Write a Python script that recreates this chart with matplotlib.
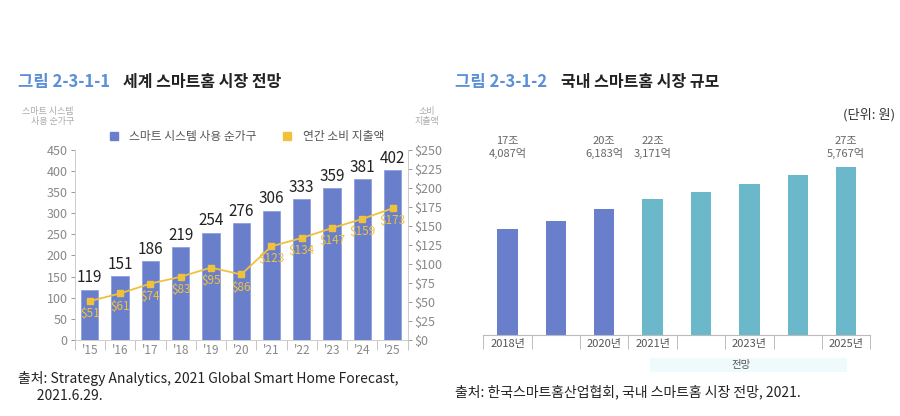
import numpy as np
import matplotlib.pyplot as plt
from matplotlib.lines import Line2D
from matplotlib.patches import Rectangle
from matplotlib.transforms import blended_transform_factory

plt.rcParams['font.family'] = ['Noto Sans CJK KR', 'DejaVu Sans']

# left chart: world smart home outlook
years = ["'15", "'16", "'17", "'18", "'19", "'20", "'21", "'22", "'23", "'24", "'25"]
households = [119, 151, 186, 219, 254, 276, 306, 333, 359, 381, 402]
spending = [51, 61, 74, 83, 95, 86, 123, 134, 147, 159, 173]

# right chart: domestic market size (조 원)
kr_years = ["2018년", "2019년", "2020년", "2021년", "2022년", "2023년", "2024년", "2025년"]
kr_market = [17.41, 18.7, 20.62, 22.32, 23.4, 24.8, 26.2, 27.58]
kr_shown = ["2018년", "", "2020년", "2021년", "", "2023년", "", "2025년"]
kr_notes = {0: "17조\n4,087억", 2: "20조\n6,183억", 3: "22조\n3,171억", 7: "27조\n5,767억"}

BLUE = "#6a7fcc"
TEAL = "#6cb8cb"
GOLD = "#f0c23c"
GRAY = "#888888"
TITLE_BLUE = "#5b8fd6"

fig = plt.figure(figsize=(9, 4.16), dpi=100)

# ---------- left ----------
ax = fig.add_axes([0.083, 0.183, 0.37, 0.457])
x = np.arange(len(years))
ax.bar(x, households, width=0.57, color=BLUE, edgecolor="#8ea0e0", linewidth=0.6)
for xi, v in zip(x, households):
    ax.text(xi, v + 8, str(v), ha="center", va="bottom", fontsize=11, color="#222222")
ax.set_xlim(-0.5, len(years) - 0.5)
ax.set_ylim(0, 450)
ax.set_yticks(range(0, 451, 50))
ax.tick_params(axis="y", labelsize=9, colors=GRAY, length=3, width=0.6, pad=2)
ax.set_xticks(x)
ax.set_xticklabels(years)
ax.tick_params(axis="x", length=0, labelsize=8.5, colors=GRAY, pad=3)
ax.set_xticks(np.arange(-0.5, len(years)), minor=True)
ax.tick_params(axis="x", which="minor", length=7, width=0.6, color="#bbbbbb")
for s in ["top", "right"]:
    ax.spines[s].set_visible(False)
for s in ["left", "bottom"]:
    ax.spines[s].set_color("#cccccc")
    ax.spines[s].set_linewidth(0.7)

ax2 = ax.twinx()
ax2.plot(x, spending, color=GOLD, marker="s", markersize=5, linewidth=1.3)
for xi, v in zip(x, spending):
    ax2.text(xi, v - 8, f"${v}", ha="center", va="top", fontsize=8.5, color=GOLD)
ax2.set_ylim(0, 250)
ax2.set_yticks(range(0, 251, 25))
ax2.set_yticklabels([f"${t}" for t in range(0, 251, 25)])
ax2.tick_params(axis="y", labelsize=9, colors=GRAY, length=3, width=0.6, pad=2)
for s in ["top", "left", "bottom"]:
    ax2.spines[s].set_visible(False)
ax2.spines["right"].set_color("#cccccc")
ax2.spines["right"].set_linewidth(0.7)

fig.text(0.082, 0.72, "스마트 시스템\n사용 순가구", ha="right", va="center",
         fontsize=6.5, color="#aaaaaa", linespacing=1.2)
fig.text(0.474, 0.72, "소비\n지출액", ha="center", va="center",
         fontsize=6.5, color="#aaaaaa", linespacing=1.2)

handles = [Line2D([], [], marker="s", linestyle="none", color=BLUE, markersize=6),
           Line2D([], [], marker="s", linestyle="none", color=GOLD, markersize=6)]
fig.legend(handles, ["스마트 시스템 사용 순가구", "연간 소비 지출액"], loc="center",
           bbox_to_anchor=(0.27, 0.672), ncol=2, frameon=False, fontsize=8.5,
           labelcolor="#555555", handletextpad=0.3, columnspacing=1.6)

fig.text(0.02, 0.802, "그림 2-3-1-1", fontsize=12, fontweight="bold", color=TITLE_BLUE,
         va="center")
fig.text(0.137, 0.802, "세계 스마트홈 시장 전망", fontsize=11.5, fontweight="bold",
         color="#222222", va="center")

fig.text(0.02, 0.07, "출처: Strategy Analytics, 2021 Global Smart Home Forecast,\n      2021.6.29.",
         fontsize=10, color="#222222", va="center", linespacing=1.25)

# ---------- right ----------
bx = fig.add_axes([0.537, 0.195, 0.43, 0.469])
xk = np.arange(len(kr_years))
colors = [BLUE if i < 3 else TEAL for i in xk]
bx.bar(xk, kr_market, width=0.42, color=colors)
bx.set_xlim(-0.5, len(kr_years) - 0.5)
bx.set_ylim(0, 32.0)
bx.set_yticks([])
bx.set_xticks(xk)
bx.set_xticklabels(kr_shown)
bx.tick_params(axis="x", length=0, labelsize=8, colors="#555555", pad=3)
bx.set_xticks(np.arange(-0.5, len(kr_years)), minor=True)
bx.tick_params(axis="x", which="minor", length=10, width=0.7, color="#bbbbbb")
for s in ["top", "right", "left"]:
    bx.spines[s].set_visible(False)
bx.spines["bottom"].set_color("#bbbbbb")
bx.spines["bottom"].set_linewidth(0.8)

tr = blended_transform_factory(bx.transData, bx.transAxes)
for i, txt in kr_notes.items():
    bx.text(xk[i], 0.96, txt, transform=tr, ha="center", va="center",
            fontsize=8, color="#666666", linespacing=1.2)

fig.add_artist(Rectangle((0.722, 0.105), 0.219, 0.034, transform=fig.transFigure,
                         facecolor="#effafc", edgecolor="none"))
fig.text(0.823, 0.122, "전망", ha="center", va="center", fontsize=7.5, color="#555555")

fig.text(0.506, 0.802, "그림 2-3-1-2", fontsize=12, fontweight="bold", color=TITLE_BLUE,
         va="center")
fig.text(0.623, 0.802, "국내 스마트홈 시장 규모", fontsize=11.5, fontweight="bold",
         color="#222222", va="center")
fig.text(0.995, 0.724, "(단위: 원)", ha="right", va="center", fontsize=9.5, color="#333333")

fig.text(0.506, 0.058, "출처: 한국스마트홈산업협회, 국내 스마트홈 시장 전망, 2021.",
         fontsize=10, color="#222222", va="center")

fig.savefig("out.png", dpi=100, facecolor="white")
